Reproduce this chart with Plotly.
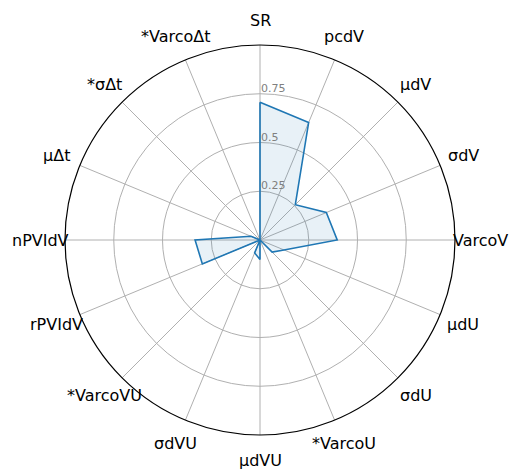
import math
import plotly.graph_objects as go

# Feature names, clockwise from the top
categories = ["SR", "pcdV", "μdV", "σdV", "VarcoV", "μdU", "σdU", "*VarcoU",
              "μdVU", "σdVU", "*VarcoVU", "rPVIdV", "nPVIdV", "μΔt", "*σΔt", "*VarcoΔt"]
values = [0.706, 0.652, 0.256, 0.368, 0.396, 0.133, 0.088, 0.0,
          0.10, 0.072, 0.0, 0.32, 0.333, 0.05, 0.0, 0.0]

radial_ticks = [0.25, 0.5, 0.75]
radial_labels = ["0.25", "0.5", "0.75"]
r_max = 1.0

W, H = 511, 472
cx, cy, R = 260, 240, 195   # polar centre and radius, in pixels
label_r = 220               # category labels are centred on this radius

fig = go.Figure()
fig.add_trace(go.Scatterpolar(
    r=values + values[:1],
    theta=categories + categories[:1],
    mode="lines",
    fill="toself",
    fillcolor="rgba(31,119,180,0.10)",
    line=dict(color="#1f77b4", width=1.6),
    hoverinfo="skip",
))

# Category labels, centred outside the rim like matplotlib's polar labels
n = len(categories)
for i, name in enumerate(categories):
    a = 2 * math.pi * i / n
    fig.add_annotation(
        x=(cx + label_r * math.sin(a)) / W,
        y=(H - cy + label_r * math.cos(a)) / H,
        xref="paper", yref="paper",
        text=name, showarrow=False,
        xanchor="center", yanchor="middle",
        font=dict(size=16, color="black", family="DejaVu Sans"),
    )

# Radial tick labels sit just right of the top spoke, above each ring
for v, txt in zip(radial_ticks, radial_labels):
    fig.add_annotation(
        x=(cx + 1) / W,
        y=(H - cy + R * v / r_max) / H,
        xref="paper", yref="paper",
        text=txt, showarrow=False,
        xanchor="left", yanchor="bottom",
        xshift=-2, yshift=-3,
        font=dict(size=11, color="#808080", family="DejaVu Sans"),
    )

fig.update_layout(
    width=W, height=H,
    margin=dict(l=0, r=0, t=0, b=0),
    paper_bgcolor="white",
    showlegend=False,
    font=dict(family="DejaVu Sans", color="black"),
    polar=dict(
        domain=dict(x=[(cx - R) / W, (cx + R) / W],
                    y=[(H - cy - R) / H, (H - cy + R) / H]),
        bgcolor="white",
        angularaxis=dict(
            rotation=90, direction="clockwise",
            categoryorder="array", categoryarray=categories,
            showline=True, linecolor="black", linewidth=1.2,
            showgrid=True, gridcolor="#b0b0b0", gridwidth=1,
            ticks="", showticklabels=False,
        ),
        radialaxis=dict(
            range=[0, r_max], angle=90,
            tickvals=radial_ticks,
            showline=False, ticks="", showticklabels=False,
            showgrid=True, gridcolor="#b0b0b0", gridwidth=1,
        ),
    ),
)

fig.write_html("out.html")
